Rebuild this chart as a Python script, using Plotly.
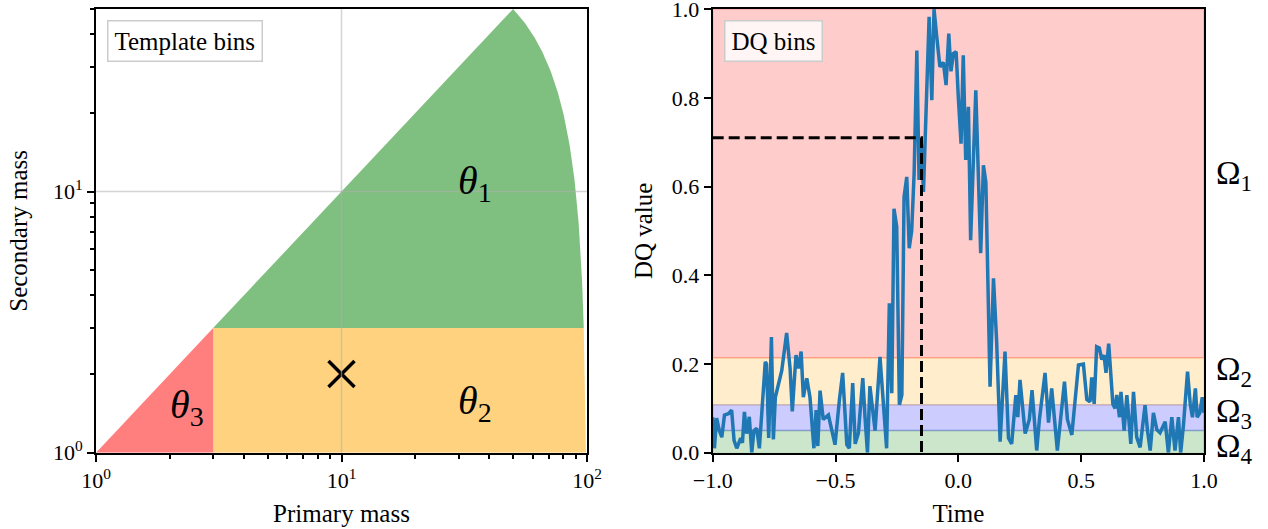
import numpy as np
import plotly.graph_objects as go

# ---------------- data ----------------
# Left panel: template bins in (primary, secondary) mass
m_min = 1.0
m2_split = 3.0
m_total_max = 100.0
m2_top = 50.0
event_m1 = [10.0]
event_m2 = [2.0]
mass_tick_vals = [1, 10, 100]
mass_tick_text = ["10<sup>0</sup>", "10<sup>1</sup>", "10<sup>2</sup>"]
mass_minor_vals = [2, 3, 4, 5, 6, 7, 8, 9, 20, 30, 40, 50, 60, 70, 80, 90]

# Right panel: DQ time series
t_vals = [
    -1.000, -0.993, -0.984, -0.973, -0.963, -0.952, -0.936, -0.923, -0.913, -0.902,
    -0.886, -0.879, -0.871, -0.862, -0.851, -0.841, -0.832, -0.821, -0.810, -0.796,
    -0.786, -0.781, -0.772, -0.761, -0.753, -0.745, -0.719, -0.699, -0.685, -0.676,
    -0.661, -0.651, -0.640, -0.631, -0.617, -0.604, -0.588, -0.579, -0.572, -0.563,
    -0.550, -0.529, -0.515, -0.502, -0.484, -0.471, -0.454, -0.444, -0.430, -0.420,
    -0.407, -0.389, -0.380, -0.370, -0.360, -0.339, -0.319, -0.305, -0.292, -0.281,
    -0.271, -0.262, -0.251, -0.240, -0.230, -0.221, -0.210, -0.200, -0.190, -0.180,
    -0.169, -0.160, -0.152, -0.142, -0.132, -0.119, -0.108, -0.099, -0.088, -0.075,
    -0.061, -0.050, -0.039, -0.030, -0.020, -0.009, 0.000, 0.011, 0.020, 0.030,
    0.041, 0.050, 0.071, 0.091, 0.102, 0.112, 0.129, 0.143, 0.156, 0.170,
    0.190, 0.204, 0.217, 0.234, 0.242, 0.251, 0.272, 0.289, 0.300, 0.319,
    0.330, 0.353, 0.367, 0.380, 0.403, 0.414, 0.432, 0.444, 0.462, 0.489,
    0.509, 0.523, 0.536, 0.543, 0.553, 0.563, 0.574, 0.584, 0.593, 0.601,
    0.612, 0.629, 0.638, 0.645, 0.656, 0.662, 0.675, 0.686, 0.702, 0.713,
    0.726, 0.740, 0.760, 0.770, 0.781, 0.794, 0.808, 0.821, 0.842, 0.855,
    0.869, 0.882, 0.896, 0.905, 0.916, 0.933, 0.944, 0.953, 0.965, 0.972,
    0.983, 0.993, 1.000,
]
dq_vals = [
    0.080, 0.010, 0.078, 0.050, 0.035, 0.085, 0.088, 0.096, 0.028, 0.010,
    0.033, 0.022, 0.092, 0.043, 0.081, 0.000, 0.050, 0.055, 0.010, 0.134,
    0.205, 0.200, 0.033, 0.261, 0.030, 0.125, 0.185, 0.270, 0.190, 0.093,
    0.220, 0.190, 0.228, 0.125, 0.168, 0.125, 0.010, 0.096, 0.015, 0.140,
    0.075, 0.085, 0.048, 0.018, 0.120, 0.180, 0.018, 0.010, 0.157, 0.020,
    0.044, 0.168, 0.081, 0.000, 0.150, 0.050, 0.216, 0.120, 0.010, 0.337,
    0.134, 0.550, 0.510, 0.108, 0.130, 0.577, 0.622, 0.461, 0.500, 0.630,
    0.907, 0.615, 0.710, 0.588, 0.765, 0.983, 0.795, 1.000, 0.938, 0.870,
    0.880, 0.829, 0.945, 0.860, 0.900, 0.904, 0.800, 0.697, 0.896, 0.660,
    0.780, 0.479, 0.817, 0.450, 0.648, 0.610, 0.149, 0.393, 0.250, 0.025,
    0.228, 0.033, 0.020, 0.130, 0.080, 0.164, 0.043, 0.075, 0.141, 0.005,
    0.075, 0.180, 0.068, 0.145, 0.005, 0.060, 0.160, 0.075, 0.040, 0.198,
    0.200, 0.120, 0.115, 0.170, 0.110, 0.239, 0.236, 0.210, 0.220, 0.180,
    0.246, 0.110, 0.100, 0.130, 0.080, 0.137, 0.050, 0.130, 0.020, 0.137,
    0.035, 0.012, 0.107, 0.050, 0.005, 0.090, 0.052, 0.045, 0.070, 0.000,
    0.080, 0.005, 0.080, 0.000, 0.060, 0.183, 0.110, 0.080, 0.145, 0.080,
    0.090, 0.125, 0.090,
]
dq_edges = [0.0, 0.05, 0.108, 0.214, 1.0]          # Omega_4 .. Omega_1 boundaries
dq_bin_labels = ["Ω<sub>4</sub>", "Ω<sub>3</sub>", "Ω<sub>2</sub>", "Ω<sub>1</sub>"]
dq_threshold = 0.71
t_event = -0.15
time_ticks = [-1.0, -0.5, 0.0, 0.5, 1.0]
time_tick_text = ["−1.0", "−0.5", "0.0", "0.5", "1.0"]
dq_ticks = [0.0, 0.2, 0.4, 0.6, 0.8, 1.0]
dq_tick_text = ["0.0", "0.2", "0.4", "0.6", "0.8", "1.0"]

# ---------------- styling ----------------
FONT = "Liberation Serif"
W, H = 1268, 529
xd1 = [96 / W, 587 / W]
xd2 = [712.7 / W, 1204 / W]
yd = [(H - 452.7) / H, (H - 9) / H]

fig = go.Figure()

# Template bin polygons
m2_curve = np.linspace(m2_top, m2_split, 120)
green_x = [m2_split, m2_top] + list(m_total_max - m2_curve) + [m2_split]
green_y = [m2_split, m2_top] + list(m2_curve) + [m2_split]
orange_x = [m2_split, m2_split, m_total_max - m2_split, m_total_max - m_min, m2_split]
orange_y = [m_min, m2_split, m2_split, m_min, m_min]
red_x = [m_min, m2_split, m2_split, m_min]
red_y = [m_min, m2_split, m_min, m_min]

for xs, ys, col in [
    (green_x, green_y, "rgba(0,128,0,0.5)"),
    (orange_x, orange_y, "rgba(255,165,0,0.5)"),
    (red_x, red_y, "rgba(255,0,0,0.5)"),
]:
    fig.add_trace(go.Scatter(x=xs, y=ys, fill="toself", fillcolor=col, mode="lines",
                             line=dict(width=0), hoverinfo="skip", showlegend=False,
                             xaxis="x", yaxis="y"))

fig.add_trace(go.Scatter(x=event_m1, y=event_m2, mode="markers",
                         marker=dict(symbol="x-thin", size=26, line=dict(width=3.5, color="black")),
                         showlegend=False, xaxis="x", yaxis="y"))

# DQ panel
fig.add_trace(go.Scatter(x=t_vals, y=dq_vals, mode="lines",
                         line=dict(color="#1f77b4", width=3.5),
                         showlegend=False, xaxis="x2", yaxis="y2"))
fig.add_trace(go.Scatter(x=[time_ticks[0], t_event, t_event], y=[dq_threshold, dq_threshold, 0],
                         mode="lines", line=dict(color="black", width=3, dash="11px,5px"),
                         showlegend=False, xaxis="x2", yaxis="y2"))

shapes = []
band_cols = ["0,128,0", "0,0,255", "255,165,0", "255,0,0"]
for i, c in enumerate(band_cols):
    shapes.append(dict(type="rect", xref="x2 domain", yref="y2", x0=0, x1=1,
                       y0=dq_edges[i], y1=dq_edges[i + 1], layer="below",
                       fillcolor=f"rgba({c},0.2)", line=dict(color=f"rgba({c},0.2)", width=1.5)))
# grid lines of left panel (drawn above patches as in reference)
for v in mass_tick_vals[1:-1]:
    shapes.append(dict(type="line", xref="x", yref="y domain", x0=v, x1=v, y0=0, y1=1,
                       layer="above", line=dict(color="rgba(176,176,176,0.55)", width=1.5)))
    shapes.append(dict(type="line", xref="x domain", yref="y", x0=0, x1=1, y0=v, y1=v,
                       layer="above", line=dict(color="rgba(176,176,176,0.55)", width=1.5)))

annotations = []
# legend-like boxes
annotations.append(dict(text="Template bins", xref="paper", yref="paper",
                        x=107 / W, y=(H - 20) / H, xanchor="left", yanchor="top", showarrow=False,
                        font=dict(family=FONT, size=25, color="black"),
                        bgcolor="rgba(255,255,255,0.8)", bordercolor="#cccccc", borderwidth=1.5,
                        borderpad=6))
annotations.append(dict(text="DQ bins", xref="paper", yref="paper",
                        x=724 / W, y=(H - 20) / H, xanchor="left", yanchor="top", showarrow=False,
                        font=dict(family=FONT, size=25, color="black"),
                        bgcolor="rgba(255,255,255,0.8)", bordercolor="#cccccc", borderwidth=1.5,
                        borderpad=6))
# theta labels (log axes -> log10 coordinates)
for txt, lx, ly in [("1", np.log10(35), np.log10(10.8)),
                    ("2", np.log10(35), np.log10(1.55)),
                    ("3", np.log10(2.35), np.log10(1.49))]:
    annotations.append(dict(text=f"<i>θ</i><sub>{txt}</sub>", xref="x", yref="y", x=lx, y=ly,
                            showarrow=False, font=dict(family=FONT, size=40, color="black")))
# Omega labels
omega_y = [0.01, 0.089, 0.183, 0.626]
for txt, yy in zip(dq_bin_labels, omega_y):
    annotations.append(dict(text=txt, xref="paper", yref="y2", x=1214 / W, y=yy,
                            xanchor="left", yanchor="middle", showarrow=False,
                            font=dict(family=FONT, size=33, color="black")))

axis_common = dict(showline=True, linecolor="black", linewidth=2, mirror=True,
                   ticks="outside", ticklen=7, tickwidth=2, tickcolor="black",
                   tickfont=dict(family=FONT, size=22, color="black"),
                   ticklabeloverflow="allow",
                   zeroline=False, automargin=False)
title_font = dict(family=FONT, size=25, color="black")

fig.update_layout(
    width=W, height=H, autosize=False,
    margin=dict(l=0, r=0, t=0, b=0),
    paper_bgcolor="white", plot_bgcolor="white",
    font=dict(family=FONT, color="black"),
    xaxis=dict(domain=xd1, type="log", range=[0, 2], anchor="y",
               tickvals=mass_tick_vals, ticktext=mass_tick_text,
               showgrid=False,
               minor=dict(tickvals=mass_minor_vals, ticks="outside", ticklen=4, tickwidth=1.5,
                          tickcolor="black", showgrid=False),
               title=dict(text="Primary mass", font=title_font, standoff=12),
               **axis_common),
    yaxis=dict(domain=yd, type="log", range=[0, np.log10(m2_top)], anchor="x",
               tickvals=mass_tick_vals, ticktext=mass_tick_text,
               showgrid=False,
               minor=dict(tickvals=mass_minor_vals, ticks="outside", ticklen=4, tickwidth=1.5,
                          tickcolor="black", showgrid=False),
               title=dict(text="Secondary mass", font=title_font, standoff=18),
               **axis_common),
    xaxis2=dict(domain=xd2, range=[-1, 1], anchor="y2",
                tickvals=time_ticks, ticktext=time_tick_text, showgrid=False,
                title=dict(text="Time", font=title_font, standoff=12),
                **axis_common),
    yaxis2=dict(domain=yd, range=[0, 1.0005], anchor="x2",
                tickvals=dq_ticks, ticktext=dq_tick_text, showgrid=False,
                title=dict(text="DQ value", font=title_font, standoff=12),
                **axis_common),
    shapes=shapes,
    annotations=annotations,
)

fig.write_html("out.html")
